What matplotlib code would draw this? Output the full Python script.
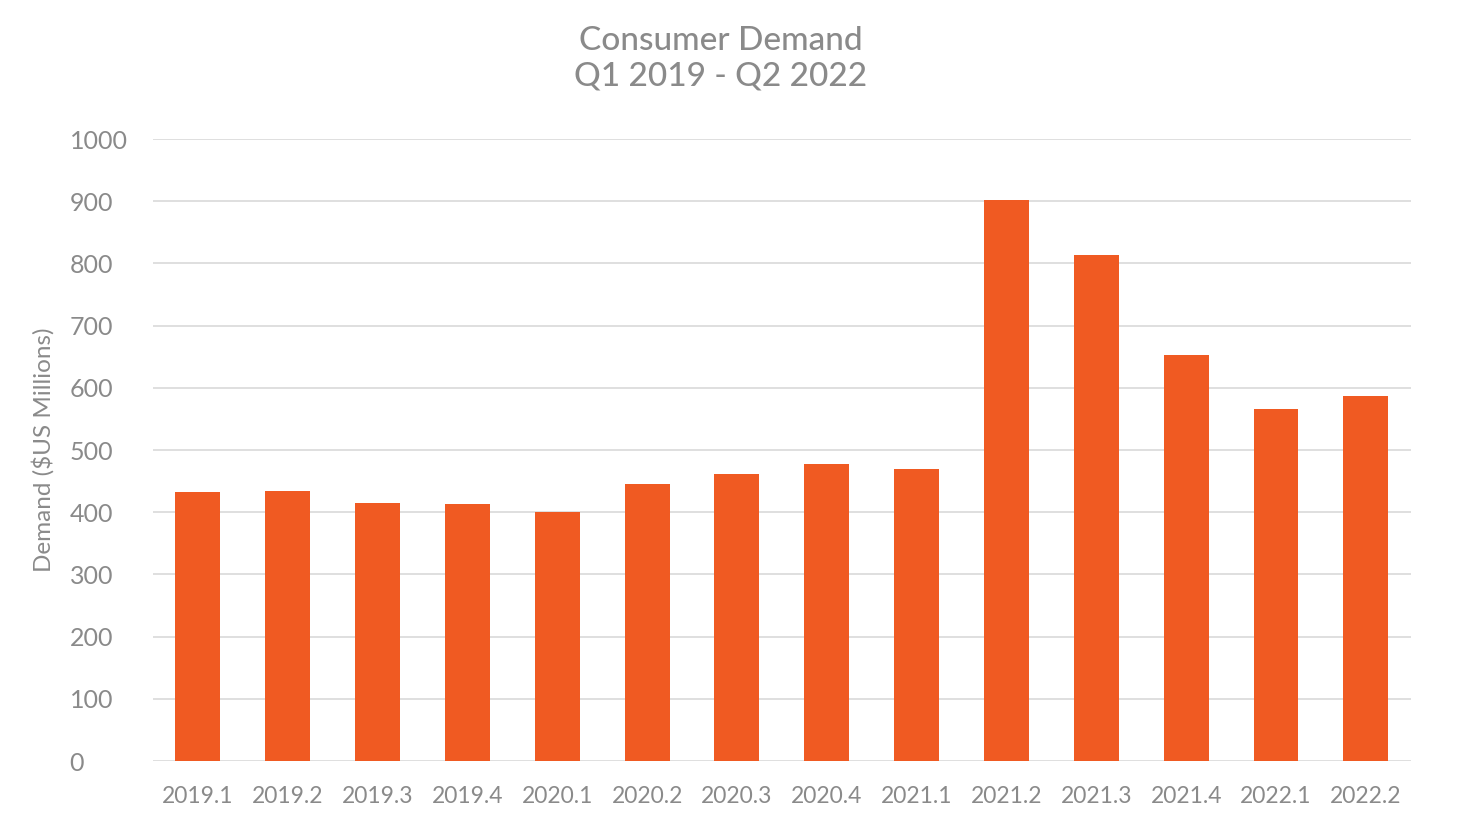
import matplotlib
matplotlib.use("Agg")
import matplotlib.pyplot as plt

quarters = ["2019.1", "2019.2", "2019.3", "2019.4", "2020.1", "2020.2", "2020.3",
            "2020.4", "2021.1", "2021.2", "2021.3", "2021.4", "2022.1", "2022.2"]
demand = [432, 434, 415, 413, 400, 445, 461, 477, 469, 902, 813, 653, 566, 587]
yticks = [0, 100, 200, 300, 400, 500, 600, 700, 800, 900, 1000]

plt.rcParams["font.family"] = ["Lato", "DejaVu Sans"]
text_color = "#8a8a8a"

fig = plt.figure(figsize=(14.65, 8.23), dpi=100)
ax = fig.add_axes([0.1044, 0.0753, 0.8586, 0.7557])

x = range(len(quarters))
ax.bar(x, demand, width=0.5, color="#F05A22", zorder=3)

ax.set_xlim(-0.5, len(quarters) - 0.5)
ax.set_ylim(0, 1000)
ax.set_yticks(yticks)
ax.set_xticks(list(x))
ax.set_xticklabels(quarters)
ax.grid(axis="y", color="#d9d9d9", linewidth=1.2, zorder=0)
for s in ax.spines.values():
    s.set_visible(False)
ax.tick_params(axis="x", length=0, labelsize=16.5, colors=text_color, pad=18)
ax.tick_params(axis="y", length=0, labelsize=18, colors=text_color, pad=60)
for lbl in ax.get_yticklabels():
    lbl.set_horizontalalignment("left")

ax.set_ylabel("Demand ($US Millions)", fontsize=17.5, color=text_color)
ax.yaxis.set_label_coords(-0.078, 0.5)

fig.text(0.492, 0.968, "Consumer Demand\nQ1 2019 - Q2 2022", ha="center", va="top",
         fontsize=24, color=text_color, linespacing=1.2, fontweight="medium")

fig.savefig("out.png", dpi=100, facecolor="white")
